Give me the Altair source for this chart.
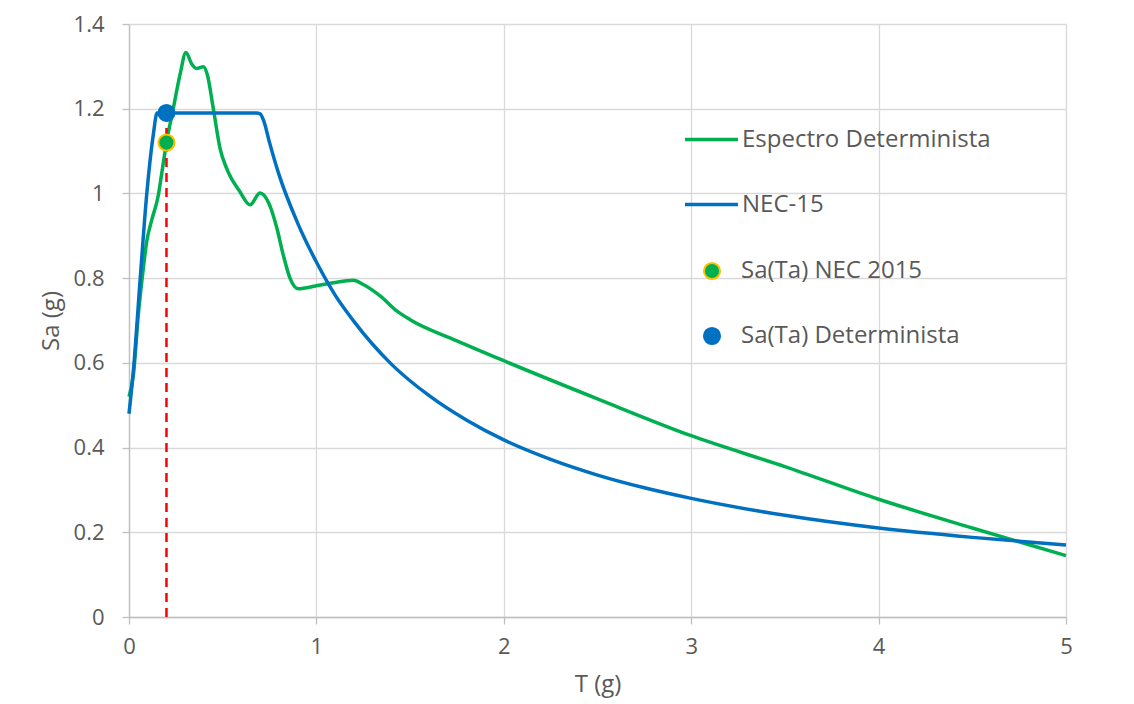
import altair as alt
import pandas as pd

# ---- data ----
T_DET = [0, 0.023, 0.05, 0.073, 0.094, 0.12, 0.157, 0.174, 0.2, 0.236, 0.272, 0.304,
         0.334, 0.36, 0.397, 0.418, 0.45, 0.486, 0.521, 0.592, 0.646, 0.699, 0.745,
         0.788, 0.823, 0.859, 0.904, 1.0, 1.09, 1.197, 1.25, 1.34, 1.43, 1.5, 1.75,
         2.0, 2.5, 3.0, 3.5, 4.0, 4.5, 5.0]
SA_DET = [0.52, 0.57, 0.715, 0.81, 0.885, 0.935, 0.997, 1.045, 1.12, 1.20, 1.28, 1.333,
          1.306, 1.295, 1.299, 1.28, 1.20, 1.106, 1.059, 1.004, 0.973, 1.001, 0.978,
          0.92, 0.855, 0.80, 0.775, 0.782, 0.789, 0.795, 0.785, 0.758, 0.722, 0.702, 0.652,
          0.605, 0.515, 0.428, 0.355, 0.278, 0.21, 0.145]

T_NEC = [0, 0.025, 0.06, 0.095, 0.13, 0.15, 0.2, 0.3, 0.4, 0.5, 0.6, 0.68, 0.7, 0.72,
         0.75, 0.8, 0.9, 1.0, 1.1, 1.2, 1.4, 1.6, 1.8, 2.0, 2.25, 2.5, 2.75, 3.0, 3.5,
         4.0, 4.5, 5.0]
SA_NEC = [0.48, 0.59, 0.80, 1.00, 1.14, 1.19, 1.19, 1.19, 1.19, 1.19, 1.19, 1.19, 1.188,
          1.17, 1.12, 1.045, 0.93, 0.838, 0.76, 0.698, 0.597, 0.523, 0.465, 0.418, 0.372,
          0.335, 0.305, 0.28, 0.24, 0.21, 0.188, 0.17]

LINE_SERIES = ["Espectro Determinista", "NEC-15"]
LINE_COLORS = ["#00B050", "#0070C0"]

POINT_SERIES = ["Sa(Ta) NEC 2015", "Sa(Ta) Determinista"]
POINT_T = [0.2, 0.2]
POINT_SA = [1.12, 1.19]
POINT_FILLS = ["#00B050", "#0070C0"]
POINT_STROKES = ["#FFC000", "#0070C0"]

TA_LINE_T = [0.2]
TA_LINE_BOTTOM = [0.0]
TA_LINE_TOP = [1.17]

X_TICKS = [0, 1, 2, 3, 4, 5]
Y_TICKS = [0, 0.2, 0.4, 0.6, 0.8, 1.0, 1.2, 1.4]

# ---- tables ----
lines_df = pd.concat([
    pd.DataFrame({"T": T_DET, "Sa": SA_DET, "serie": LINE_SERIES[0]}),
    pd.DataFrame({"T": T_NEC, "Sa": SA_NEC, "serie": LINE_SERIES[1]}),
], ignore_index=True)
points_df = pd.DataFrame({"T": POINT_T, "Sa": POINT_SA, "serie": POINT_SERIES})
rule_df = pd.DataFrame({"T": TA_LINE_T, "Sa": TA_LINE_BOTTOM, "Sa2": TA_LINE_TOP})

FONT = "Open Sans"
TXT = "#595959"

x_enc = alt.X("T:Q", scale=alt.Scale(domain=[0, 5], nice=False, zero=True),
              axis=alt.Axis(values=X_TICKS, format="d", title="T (g)", labelFlush=False))
y_enc = alt.Y("Sa:Q", scale=alt.Scale(domain=[0, 1.4], nice=False),
              axis=alt.Axis(values=Y_TICKS, format=".1~f", title="Sa (g)", labelFlush=False))

W, H = 937, 593

lines = alt.Chart(lines_df).mark_line(strokeWidth=3.5, interpolate="monotone").encode(
    x=x_enc,
    y=y_enc,
    color=alt.Color("serie:N",
                    scale=alt.Scale(domain=LINE_SERIES, range=LINE_COLORS),
                    legend=alt.Legend(title=None, orient="none", legendX=554, legendY=87,
                                      symbolType="stroke", symbolSize=2809,
                                      symbolStrokeWidth=3.5, labelOffset=2,
                                      rowPadding=24, padding=0)),
    detail="serie:N",
)

rule = alt.Chart(rule_df).mark_rule(color="#FF0000", strokeWidth=2.5, strokeDash=[9, 6]).encode(
    x=alt.X("T:Q"),
    y=alt.Y("Sa:Q"),
    y2="Sa2:Q",
)

pt_legend = alt.Legend(title=None, orient="none", legendX=571, legendY=235,
                       symbolType="circle", symbolSize=260, symbolStrokeWidth=2,
                       labelOffset=17, rowPadding=39, padding=0)
points = alt.Chart(points_df).mark_circle(size=260, strokeWidth=2, opacity=1).encode(
    x=alt.X("T:Q"),
    y=alt.Y("Sa:Q"),
    fill=alt.Fill("serie:N", scale=alt.Scale(domain=POINT_SERIES, range=POINT_FILLS),
                  legend=pt_legend),
    stroke=alt.Stroke("serie:N", scale=alt.Scale(domain=POINT_SERIES, range=POINT_STROKES),
                      legend=pt_legend),
)

chart = alt.layer(lines, rule, points).properties(
    width=W, height=H,
    autosize=alt.AutoSizeParams(type="none"),
    padding={"left": 121, "top": 16, "right": 60, "bottom": 90},
).resolve_scale(
    color="independent"
).configure_view(
    stroke=None
).configure_axis(
    labelFont=FONT, labelFontSize=22, labelColor=TXT,
    titleFont=FONT, titleFontSize=24, titleColor=TXT, titleFontWeight="normal",
    gridColor="#D9D9D9", gridWidth=1.3,
    domainColor="#BFBFBF", domainWidth=1.3,
    tickColor="#BFBFBF", tickSize=7, tickWidth=1.3,
).configure_axisX(
    labelPadding=12, titlePadding=15, grid=True,
).configure_axisY(
    labelPadding=18, titlePadding=10, grid=True,
).configure_legend(
    labelFont=FONT, labelFontSize=24, labelColor=TXT, labelLimit=400,
)

chart.save("out.html", embed_options={"renderer": "svg", "actions": False})
